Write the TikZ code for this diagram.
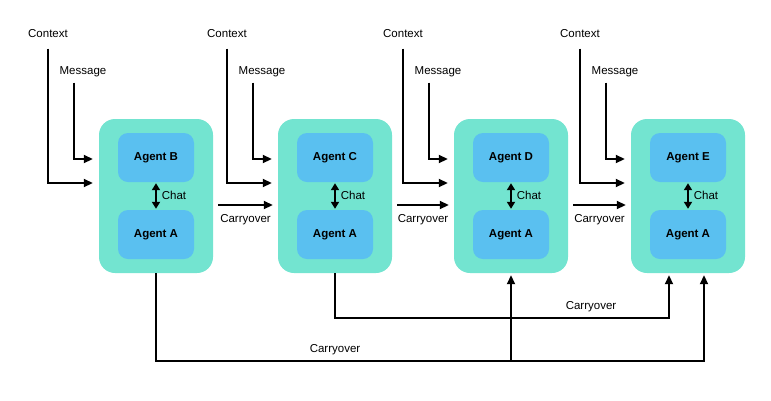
\documentclass[tikz,border=0pt]{standalone}
\usepackage{fontspec}
\setmainfont{Liberation Sans}
\usetikzlibrary{arrows.meta}
\definecolor{boxteal}{HTML}{73E4D0}
\definecolor{agentblue}{HTML}{5AC0F0}
\tikzset{
  group/.style={fill=boxteal, rounded corners=16pt, minimum width=114pt, minimum height=154pt},
  agent/.style={fill=agentblue, rounded corners=10pt, minimum width=76pt, minimum height=49pt,
    font=\bfseries\fontsize{11.5}{13}\selectfont},
  lbl/.style={font=\fontsize{11.5}{13}\selectfont, text height=8.5pt, text depth=2.5pt, inner sep=2pt},
  flow/.style={line width=1.8pt, -{Triangle[length=9pt,width=8pt]}},
  chat/.style={line width=1.8pt, {Triangle[length=7pt,width=8pt]}-{Triangle[length=7pt,width=8pt]}},
}
\begin{document}
\begin{tikzpicture}[x=1pt,y=-1pt]
  \useasboundingbox (0,0) rectangle (771,400);
  % one group per chat
  \foreach [count=\i] \x/\t in {156/B,335/C,511/D,688/E} {
    \node[group] (b\i) at (\x,196) {};
    \node[agent] (t\i) at (\x,157.5) {Agent \t};
    \node[agent] (a\i) at (\x,234.5) {Agent A};
    \draw[chat,shorten <=1pt,shorten >=1pt] (t\i) -- (a\i) node[lbl,midway,right=3pt] (chat\i) {Chat};
    \node[lbl] (ctx\i) at (\x-108,34) {Context};
    \node[lbl] (msg\i) at (\x-73,71) {Message};
    \draw[flow,shorten <=7pt,shorten >=6pt] (ctx\i.south) |- ([yshift=13pt]b\i.west);
    \draw[flow,shorten <=4pt,shorten >=6pt] ([xshift=-9pt]msg\i.south) |- ([yshift=37pt]b\i.west);
  }
  % carryover to the next chat
  \foreach \i/\j in {1/2,2/3,3/4}
    \draw[flow,shorten <=5pt,shorten >=5pt] ([yshift=-9pt]b\i.east) -- ([yshift=-9pt]b\j.west)
      node[lbl,midway,below=6pt] (carry\i) {Carryover};
  % carryover to later chats
  \draw[flow,shorten >=2pt] (b1.south) -- ++(0,88) coordinate (low) -| ([xshift=16pt]b4.south);
  \draw[flow,shorten >=2pt] (b3.south |- low) -- (b3.south);
  \node[lbl,above=4pt] (carry4) at (b2.south |- low) {Carryover};
  \draw[flow,shorten >=2pt] (b2.south) -- ++(0,45) coordinate (mid) -| ([xshift=-19pt]b4.south);
  \node[lbl,above=4pt] (carry5) at ([xshift=256pt]mid) {Carryover};
\end{tikzpicture}
\end{document}
